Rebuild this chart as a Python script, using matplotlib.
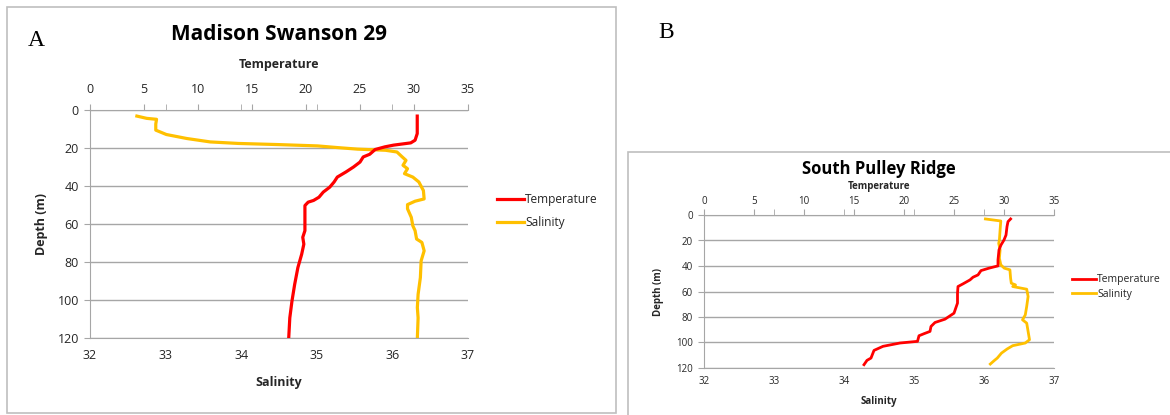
import matplotlib
matplotlib.use("Agg")
import matplotlib.pyplot as plt
from matplotlib.patches import Rectangle

plt.rcParams['font.family'] = ['Open Sans', 'DejaVu Sans']

# Panel A: Madison Swanson 29
a_temp_depth = [3.2, 12.4, 15.9, 17.3, 18.5, 19.4, 20.8, 23.3, 24.7, 27.4, 30.0, 32.6, 35.3,
                37.9, 40.6, 43.2, 45.9, 47.6, 48.5, 50.3, 56.5, 63.5, 67.0, 70.6, 75.9,
                82.9, 91.8, 100.6, 109.4, 120.0]
a_temp = [30.3, 30.3, 30.1, 29.7, 28.1, 27.3, 26.4, 25.9, 25.3, 25.0, 24.4, 23.7, 22.9,
          22.6, 22.2, 21.6, 21.2, 20.7, 20.2, 19.9, 19.9, 19.9, 19.7, 19.8, 19.6,
          19.25, 18.95, 18.7, 18.5, 18.4]
a_sal_depth = [3.2, 4.4, 4.9, 7.4, 10.6, 12.9, 15.0, 16.8, 17.6, 18.2, 18.9, 19.8, 20.6,
               21.2, 22.1, 24.7, 26.5, 29.1, 30.9, 33.5, 35.3, 37.9, 42.4, 46.8, 48.0,
               49.8, 52.0, 56.5, 60.9, 63.5, 67.9, 69.7, 74.1, 79.4, 88.2, 97.0, 104.0,
               109.4, 120.0]
a_sal = [32.62, 32.75, 32.88, 32.87, 32.87, 33.01, 33.28, 33.59, 33.96, 34.49, 35.01, 35.28,
         35.54, 35.91, 36.06, 36.13, 36.18, 36.14, 36.20, 36.16, 36.27, 36.35, 36.41, 36.42,
         36.30, 36.20, 36.20, 36.25, 36.27, 36.30, 36.32, 36.39, 36.42, 36.38, 36.37, 36.34,
         36.33, 36.34, 36.33]

# Panel B: South Pulley Ridge
b_temp_depth = [3.1, 5.2, 9.1, 15.7, 19.6, 23.5, 27.4, 35.2, 39.9, 41.7, 43.6, 47.0, 48.8,
                50.9, 54.0, 56.1, 61.3, 69.1, 77.0, 81.7, 84.3, 87.4, 91.3, 93.1, 94.7,
                99.1, 100.4, 103.0, 106.2, 112.2, 114.0, 117.4]
b_temp = [30.66, 30.4, 30.3, 30.2, 30.0, 29.7, 29.5, 29.4, 29.4, 28.5, 27.7, 27.4, 26.9,
          26.6, 25.9, 25.4, 25.35, 25.35, 25.0, 24.1, 23.1, 22.7, 22.6, 22.0, 21.5,
          21.35, 19.6, 17.9, 17.0, 16.7, 16.3, 16.0]
b_sal_depth = [3.1, 4.7, 11.7, 19.6, 22.2, 27.4, 33.9, 39.1, 41.7, 43.0, 49.6, 53.5, 54.8,
               56.1, 58.2, 63.9, 71.7, 78.3, 82.2, 84.8, 91.3, 97.8, 100.4, 102.5, 105.1,
               108.3, 112.2, 114.0, 116.9]
b_sal = [36.02, 36.24, 36.23, 36.22, 36.21, 36.23, 36.22, 36.24, 36.29, 36.37, 36.38, 36.39,
         36.45, 36.41, 36.61, 36.63, 36.61, 36.59, 36.55, 36.61, 36.63, 36.65, 36.59, 36.41,
         36.33, 36.25, 36.19, 36.15, 36.09]

depth_ticks = [0, 20, 40, 60, 80, 100, 120]
temp_ticks = [0, 5, 10, 15, 20, 25, 30, 35]
sal_ticks = [32, 33, 34, 35, 36, 37]
sal_as_temp = [7, 14, 21, 28]  # salinity tick positions shown on the top axis

RED = '#ff0000'
GOLD = '#ffc000'
GRID = '#a6a6a6'
TXT = '#262626'

W, H = 1170, 415
fig = plt.figure(figsize=(W / 100, H / 100), dpi=100)


def fx(px):
    return px / W


def fy(py):
    return 1 - py / H


def profile(rect, title, temp_depth, temp, sal_depth, sal, fs, title_fs, lw, pads):
    # pads: top ticks, temperature label, title, bottom ticks, salinity label, depth label
    p_top, p_tlab, p_title, p_bot, p_slab, p_dlab = pads
    ax = fig.add_axes(rect)
    ax.set_ylim(120, 0)
    ax.set_xlim(32, 37)
    ax.set_xticks(sal_ticks)
    ax.set_yticks(depth_ticks)
    ax.yaxis.grid(True, color=GRID, lw=1)
    ax.set_axisbelow(True)
    for s in ['top', 'right']:
        ax.spines[s].set_visible(False)
    for s in ['left', 'bottom']:
        ax.spines[s].set_color(GRID)
    ax.tick_params(axis='x', length=0, labelsize=fs, colors=TXT, pad=p_bot)
    ax.tick_params(axis='y', length=4, color=GRID, labelsize=fs, colors=TXT, pad=4)
    ax.set_xlabel('Salinity', fontsize=fs, fontweight='bold', color=TXT, labelpad=p_slab)
    ax.set_ylabel('Depth (m)', fontsize=fs, fontweight='bold', color=TXT, labelpad=p_dlab)

    top = ax.twiny()
    top.set_xlim(0, 35)
    top.set_xticks(temp_ticks)
    top.set_xticks(sal_as_temp, minor=True)
    for s in ['bottom', 'right', 'left']:
        top.spines[s].set_visible(False)
    top.spines['top'].set_color(GRID)
    top.tick_params(axis='x', which='both', length=4, color=GRID, labelsize=fs,
                    colors=TXT, pad=p_top)
    top.set_xlabel('Temperature', fontsize=fs, fontweight='bold', color=TXT,
                   labelpad=p_tlab)

    l1, = top.plot(temp, temp_depth, color=RED, lw=lw, label='Temperature')
    l2, = ax.plot(sal, sal_depth, color=GOLD, lw=lw, label='Salinity')
    top.set_title(title, fontsize=title_fs, fontweight='bold', color='black', pad=p_title)
    return ax, top, [l1, l2]


# Panel A
fig.add_artist(Rectangle((fx(7), fy(413)), fx(609), fy(7) - fy(413), transform=fig.transFigure,
                         fill=False, edgecolor='#bfbfbf', lw=1.2))
axA, topA, hA = profile([fx(90), fy(338), fx(378), fy(110) - fy(338)], 'Madison Swanson 29',
                        a_temp_depth, a_temp, a_sal_depth, a_sal, 9, 15, 2.3,
                        (6.2, 10.8, 13.0, 8.0, 10.0, 7.0))
fig.text(fx(28), fy(40), 'A', fontsize=17, family='Liberation Serif', va='center')
fig.legend(hA, ['Temperature', 'Salinity'], loc='upper left',
           bbox_to_anchor=(fx(486), fy(182)), bbox_transform=fig.transFigure,
           frameon=False, fontsize=8.6, handlelength=2.3, handletextpad=0.1,
           labelspacing=0.85, labelcolor=TXT)

# Panel B
fig.add_artist(Rectangle((fx(628), fy(416)), fx(560), fy(152) - fy(416), transform=fig.transFigure,
                         fill=False, edgecolor='#bfbfbf', lw=1.2))
axB, topB, hB = profile([fx(704), fy(368), fx(350), fy(215) - fy(368)], 'South Pulley Ridge',
                        b_temp_depth, b_temp, b_sal_depth, b_sal, 7, 12, 2.0,
                        (1.5, 5.5, 4.5, 5.5, 7.0, 9.0))
fig.text(fx(658), fy(32), 'B', fontsize=17, family='Liberation Serif', va='center')
fig.legend(hB, ['Temperature', 'Salinity'], loc='upper left',
           bbox_to_anchor=(fx(1063), fy(265)), bbox_transform=fig.transFigure,
           frameon=False, fontsize=7.5, handlelength=2.3, handletextpad=0.1,
           labelspacing=0.3, labelcolor=TXT)

fig.savefig('out.png', dpi=100)
